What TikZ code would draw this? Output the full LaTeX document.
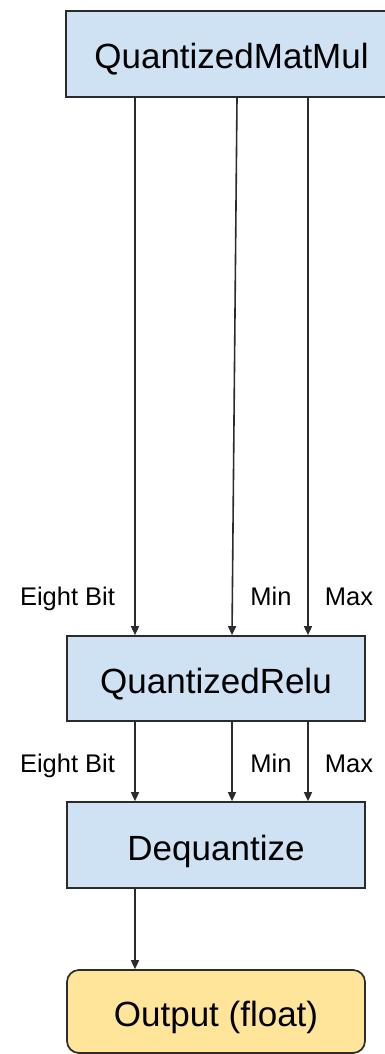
\documentclass[tikz,border=0pt]{standalone}
\usepackage{fontspec}
\setmainfont{Liberation Sans}
\usetikzlibrary{arrows.meta}
\definecolor{boxblue}{HTML}{CFE2F3}
\definecolor{boxyellow}{HTML}{FFE599}
\definecolor{edge}{HTML}{2B2B2B}
\begin{document}
\begin{tikzpicture}[x=1pt,y=-1pt,
  opbox/.style={draw=edge, line width=1.7pt, fill=boxblue, inner sep=0pt,
    font=\fontsize{35}{40}\selectfont, text height=30pt, text depth=0pt,
    minimum width=298pt, minimum height=86pt},
  outbox/.style={opbox, fill=boxyellow, rounded corners=12pt},
  flow/.style={draw=edge, line width=1.6pt, -{Triangle[length=9pt,width=8pt]}},
  tag/.style={font=\fontsize{25.5}{30}\selectfont, inner sep=0pt, anchor=base}]
\useasboundingbox (0,0) rectangle (384,1054);

% operation boxes
\node[opbox, minimum width=331pt] (mm) at (231.5,54) {QuantizedMatMul};
\node[opbox, minimum height=85pt] (relu) at (216,678.5) {QuantizedRelu};
\node[opbox] (deq) at (216,845) {Dequantize};
\node[outbox, minimum height=83pt] (out) at (216,1011.5) {Output (float)};

% lanes of the three tensors
\coordinate (a1) at (135,0);
\coordinate (a2t) at (237,0);
\coordinate (a2b) at (232,0);
\coordinate (a3) at (308,0);

% QuantizedMatMul -> QuantizedRelu
\draw[flow] (a1 |- mm.south) -- (a1 |- relu.north);
\draw[flow] (a2t |- mm.south) -- (a2b |- relu.north);
\draw[flow] (a3 |- mm.south) -- (a3 |- relu.north);
\node[tag] (e1) at (67.5,605) {Eight Bit};
\node[tag] (n1) at (271,605) {Min};
\node[tag] (x1) at (349,605) {Max};

% QuantizedRelu -> Dequantize
\draw[flow] (a1 |- relu.south) -- (a1 |- deq.north);
\draw[flow] (a2b |- relu.south) -- (a2b |- deq.north);
\draw[flow] (a3 |- relu.south) -- (a3 |- deq.north);
\node[tag] (e2) at (67.5,772) {Eight Bit};
\node[tag] (n2) at (271,772) {Min};
\node[tag] (x2) at (349,772) {Max};

% Dequantize -> Output
\draw[flow] (deq.south -| a1) -- (out.north -| a1);
\end{tikzpicture}
\end{document}
